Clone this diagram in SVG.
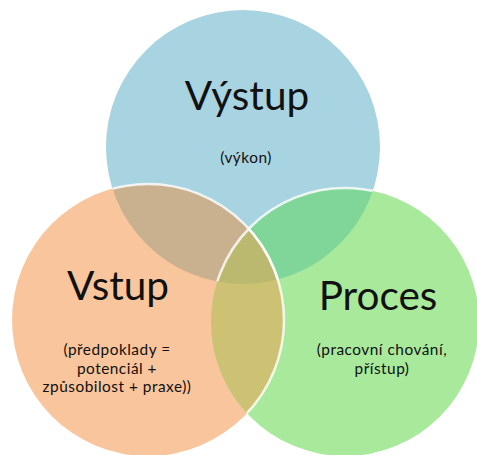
<svg xmlns="http://www.w3.org/2000/svg" width="477" height="455" viewBox="0 0 477 455">
<style>
.t{font-family:Lato,"Open Sans","Liberation Sans",sans-serif;fill:#111;text-anchor:middle}
.big{font-size:40.5px}
.small{font-size:15.4px;letter-spacing:0.5px}
.edge{fill:none;stroke:#fff;stroke-width:2.5;stroke-opacity:0.8}
</style>
<defs>
<clipPath id="cB"><circle cx="243" cy="147" r="137"/></clipPath>
<clipPath id="cO"><circle cx="148" cy="320" r="136"/></clipPath>
<clipPath id="cG"><circle cx="345" cy="322" r="134"/></clipPath>
</defs>
<rect width="477" height="455" fill="#fff"/>
<g id="vystup">
<circle cx="243" cy="147" r="137" fill="#a8d3e1"/>
</g>
<g id="vstup">
<circle cx="148" cy="320" r="136" fill="#f9c59c"/>
</g>
<g id="proces">
<circle cx="345" cy="322" r="134" fill="#a9e99c"/>
</g>
<g id="overlaps">
<circle cx="148" cy="320" r="136" fill="#c9b08e" clip-path="url(#cB)"/>
<g clip-path="url(#cB)"><circle cx="345" cy="322" r="134" fill="#7fd698"/></g>
<g clip-path="url(#cO)"><circle cx="345" cy="322" r="134" fill="#cdc173"/></g>
<g clip-path="url(#cB)"><g clip-path="url(#cO)"><circle cx="345" cy="322" r="134" fill="#bbb86f"/></g></g>
</g>
<g id="edges">
<g clip-path="url(#cB)"><circle class="edge" cx="345" cy="322" r="134"/></g>
<g clip-path="url(#cB)"><circle class="edge" cx="148" cy="320" r="136"/></g>
<g clip-path="url(#cG)"><circle class="edge" cx="148" cy="320" r="136"/></g>
</g>
<g id="labels">
<text class="t big" x="247" y="110">Výstup</text>
<text class="t small" x="246" y="163">(výkon)</text>
<text class="t big" x="118" y="300">Vstup</text>
<text class="t small" x="117" y="355">(předpoklady =</text>
<text class="t small" x="117" y="373.5">potenciál +</text>
<text class="t small" x="117" y="392">způsobilost + praxe))</text>
<text class="t big" x="378" y="310">Proces</text>
<text class="t small" x="382" y="355">(pracovní chování,</text>
<text class="t small" x="382" y="373.5">přístup)</text>
</g>
</svg>
